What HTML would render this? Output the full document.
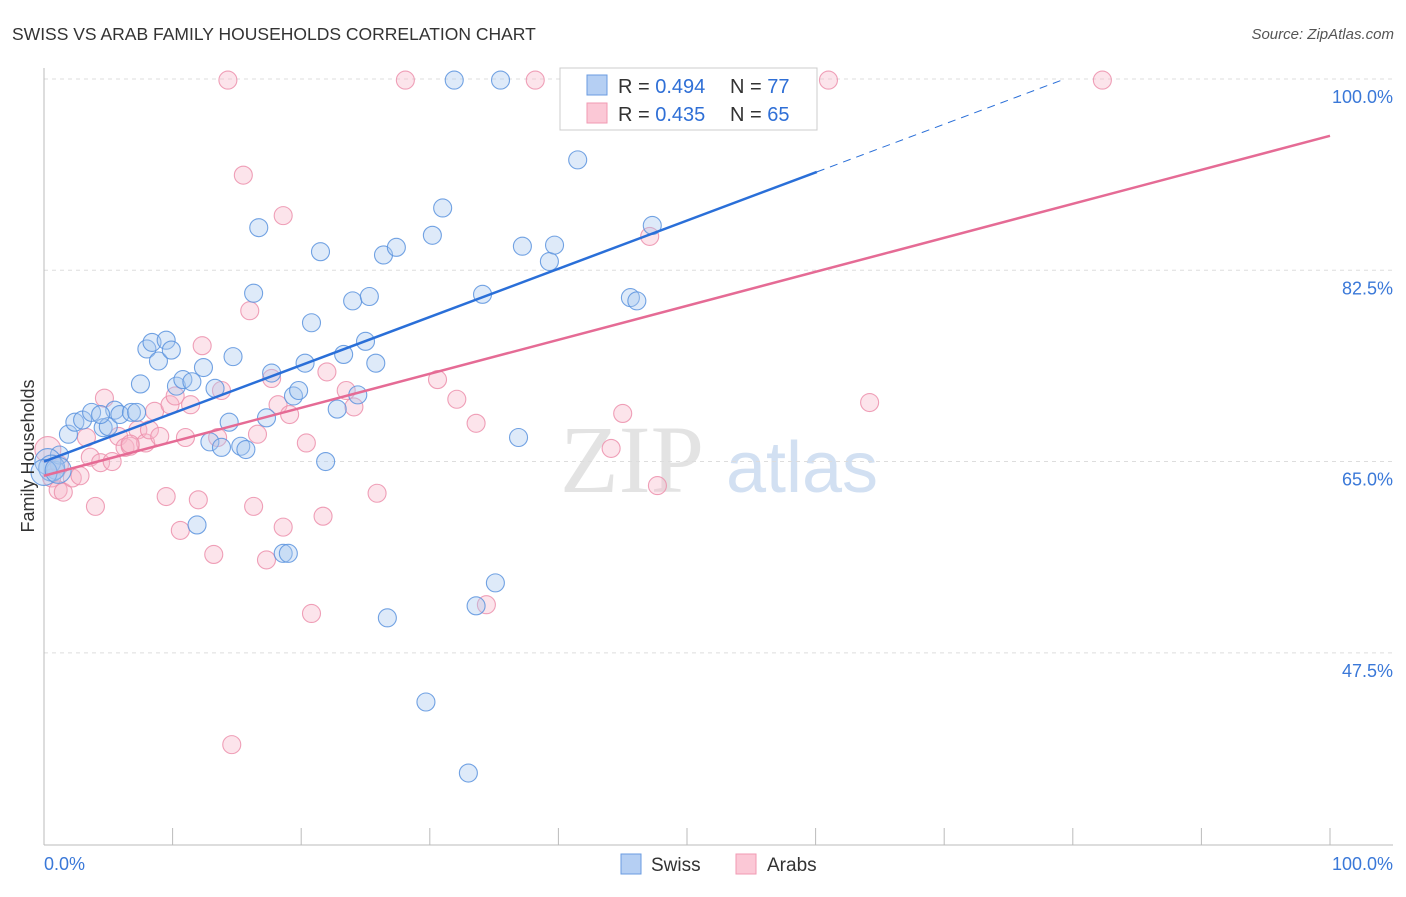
<!DOCTYPE html>
<html><head><meta charset="utf-8"><style>
body{margin:0;background:#fff;font-family:"Liberation Sans",sans-serif}
</style></head><body>
<svg width="1406" height="892" xmlns="http://www.w3.org/2000/svg">
<text x="12" y="40" font-size="17.5" fill="#333">SWISS VS ARAB FAMILY HOUSEHOLDS CORRELATION CHART</text>
<text x="1394" y="39" font-size="15" fill="#555" text-anchor="end" font-style="italic">Source: ZipAtlas.com</text>
<g>
<text x="632" y="492" font-size="96" fill="#ddd" font-family="Liberation Serif" text-anchor="middle" opacity="0.8">ZIP</text>
<text x="802" y="492" font-size="72" fill="#c8d9f0" text-anchor="middle" opacity="0.8">atlas</text>
</g>
<g id="grid"></g>
<g id="axes"></g>
<g id="marks"></g>
<text x="34" y="456" font-size="18" fill="#333" text-anchor="middle" transform="rotate(-90 34 456)">Family Households</text>
<g>
<rect x="560" y="68" width="257" height="62" fill="#fff" stroke="#ccc"/>
<rect x="587" y="75" width="20" height="20" fill="#b5cff3" stroke="#6a9be0"/>
<rect x="587" y="103" width="20" height="20" fill="#fbc8d6" stroke="#f09ab3"/>
<text x="618" y="93" font-size="20" fill="#333">R = <tspan fill="#2f6fd6">0.494</tspan></text>
<text x="730" y="93" font-size="20" fill="#333">N = <tspan fill="#2f6fd6">77</tspan></text>
<text x="618" y="121" font-size="20" fill="#333">R = <tspan fill="#2f6fd6">0.435</tspan></text>
<text x="730" y="121" font-size="20" fill="#333">N = <tspan fill="#2f6fd6">65</tspan></text>
</g>
<g>
<rect x="621" y="854" width="20" height="20" fill="#b5cff3" stroke="#6a9be0"/>
<text x="651" y="871" font-size="19" fill="#333">Swiss</text>
<rect x="736" y="854" width="20" height="20" fill="#fbc8d6" stroke="#f09ab3"/>
<text x="767" y="871" font-size="19" fill="#333">Arabs</text>
</g>
</svg>
<script>
const yTicks=[100,82.5,65,47.5];
const yTickLabels=["100.0%","82.5%","65.0%","47.5%"];
const xLabels=["0.0%","100.0%"];
const swissX=[0.9,1.2,1.9,2.4,3.0,3.7,4.6,5.0,5.5,5.9,6.8,7.5,8.0,8.4,8.9,9.5,9.9,10.3,10.8,11.5,12.4,12.9,13.8,14.4,14.7,15.3,15.7,16.3,16.7,17.3,17.7,18.6,19.0,19.4,19.8,20.3,20.8,21.5,21.9,22.8,23.3,24.0,24.4,25.0,25.3,25.8,26.4,26.7,27.4,29.7,30.2,31.0,31.9,33.0,33.6,34.1,35.1,35.5,36.9,37.2,39.3,39.7,41.5,43.0,45.6,46.1,47.3,51.8,54.5,11.9,0.3,0.6,0,1.1,13.3,7.2,4.4];
const swissY=[64.2,65.6,67.5,68.6,68.8,69.5,68.1,68.2,69.7,69.3,69.5,72.1,75.3,75.9,74.2,76.1,75.2,71.9,72.5,72.3,73.6,66.8,66.3,68.6,74.6,66.4,66.1,80.4,86.4,69.0,73.1,56.6,56.6,71.0,71.5,74.0,77.7,84.2,65.0,69.8,74.8,79.7,71.1,76.0,80.1,74.0,83.9,50.7,84.6,43.0,85.7,88.2,99.9,36.5,51.8,80.3,53.9,99.9,67.2,84.7,83.3,84.8,92.6,99.9,80.0,79.7,86.6,99.9,99.9,59.2,65.0,64.4,64.0,64.2,71.7,69.5,69.3];
const arabX=[0.3,0.6,1.1,1.5,2.2,2.8,3.3,3.6,4.0,4.4,4.7,5.3,5.8,6.3,6.7,7.3,7.9,8.2,8.6,9.0,9.5,9.8,10.2,10.6,11.0,11.4,12.0,12.3,13.2,13.5,13.8,14.3,14.6,15.5,16.0,16.3,16.6,17.3,17.7,18.2,18.6,18.6,19.1,20.4,20.8,21.7,22.0,23.5,24.1,25.9,28.1,30.6,32.1,33.6,34.4,38.2,44.1,45.0,47.1,47.7,61.0,64.2,82.3,1.2,6.7];
const arabY=[66.1,63.5,62.4,62.2,63.5,63.7,67.2,65.4,60.9,64.9,70.8,65.0,67.3,66.3,66.4,67.9,66.7,67.9,69.6,67.3,61.8,70.2,71.0,58.7,67.2,70.2,61.5,75.6,56.5,67.2,71.5,99.9,39.1,91.2,78.8,60.9,67.5,56.0,72.6,70.2,87.5,59.0,69.3,66.7,51.1,60.0,73.2,71.5,70.0,62.1,99.9,72.5,70.7,68.5,51.9,99.9,66.2,69.4,85.6,62.8,99.9,70.4,99.9,64.7,66.6];
const swissTrend=[65.0,91.5,60.1];
const arabTrend=[63.7,94.8];
const NS="http://www.w3.org/2000/svg";
const xs=v=>44+v*12.86, ys=v=>79+(100-v)*10.93;
function mk(t,a,p){const e=document.createElementNS(NS,t);for(const k in a)e.setAttribute(k,a[k]);p.appendChild(e);return e;}
const grid=document.getElementById('grid'),axes=document.getElementById('axes'),marks=document.getElementById('marks');
yTicks.forEach((t,i)=>{
 const l=mk('line',{x1:44,x2:1393,y1:ys(t),y2:ys(t),stroke:'#ddd','stroke-dasharray':'4 4'},grid);
 
 
 const tx=mk('text',{x:1393,y:ys(t)+24,'font-size':18,fill:'#3a78d8','text-anchor':'end'},axes);
 tx.textContent=yTickLabels[i];
 
 
});
const ax=mk('line',{x1:44,x2:1393,y1:845,y2:845,stroke:'#bbb'},axes);


const ay=mk('line',{x1:44,x2:44,y1:68,y2:845,stroke:'#bbb'},axes);


for(let i=0;i<=10;i++){const t=mk('line',{x1:xs(i*10),x2:xs(i*10),y1:828,y2:845,stroke:'#bbb'},axes);
 
 }
const xl0=mk('text',{x:44,y:870,'font-size':18,fill:'#3a78d8'},axes);xl0.textContent=xLabels[0];


const xl1=mk('text',{x:1393,y:870,'font-size':18,fill:'#3a78d8','text-anchor':'end'},axes);xl1.textContent=xLabels[1];


function pts(X,Y,fill,stroke,name){X.forEach((x,i)=>{const c=mk('circle',{cx:xs(x),cy:ys(Y[i]),r:(x<1.2&&i>60||i===0&&name==='arab-point')?13:9,fill:fill,'fill-opacity':0.38,stroke:stroke,'stroke-width':1.1,'stroke-opacity':0.85},marks);
 
 });}
pts(arabX,arabY,'#f8b9cb','#ec8fab','arab-point');
pts(swissX,swissY,'#a9c8f0','#5b93de','swiss-point');
const sl=(swissTrend[1]-swissTrend[0])/swissTrend[2];
const b1=mk('line',{x1:xs(0),y1:ys(swissTrend[0]),x2:xs(swissTrend[2]),y2:ys(swissTrend[1]),stroke:'#2a6fd8','stroke-width':2.5},marks);


const xe=(100-swissTrend[0])/sl;
const b2=mk('line',{x1:xs(swissTrend[2]),y1:ys(swissTrend[1]),x2:xs(xe),y2:ys(100),stroke:'#2a6fd8','stroke-width':1,'stroke-dasharray':'8 6'},marks);


const p1=mk('line',{x1:xs(0),y1:ys(arabTrend[0]),x2:xs(100),y2:ys(arabTrend[1]),stroke:'#e56b95','stroke-width':2.5},marks);


</script>
</body></html>
